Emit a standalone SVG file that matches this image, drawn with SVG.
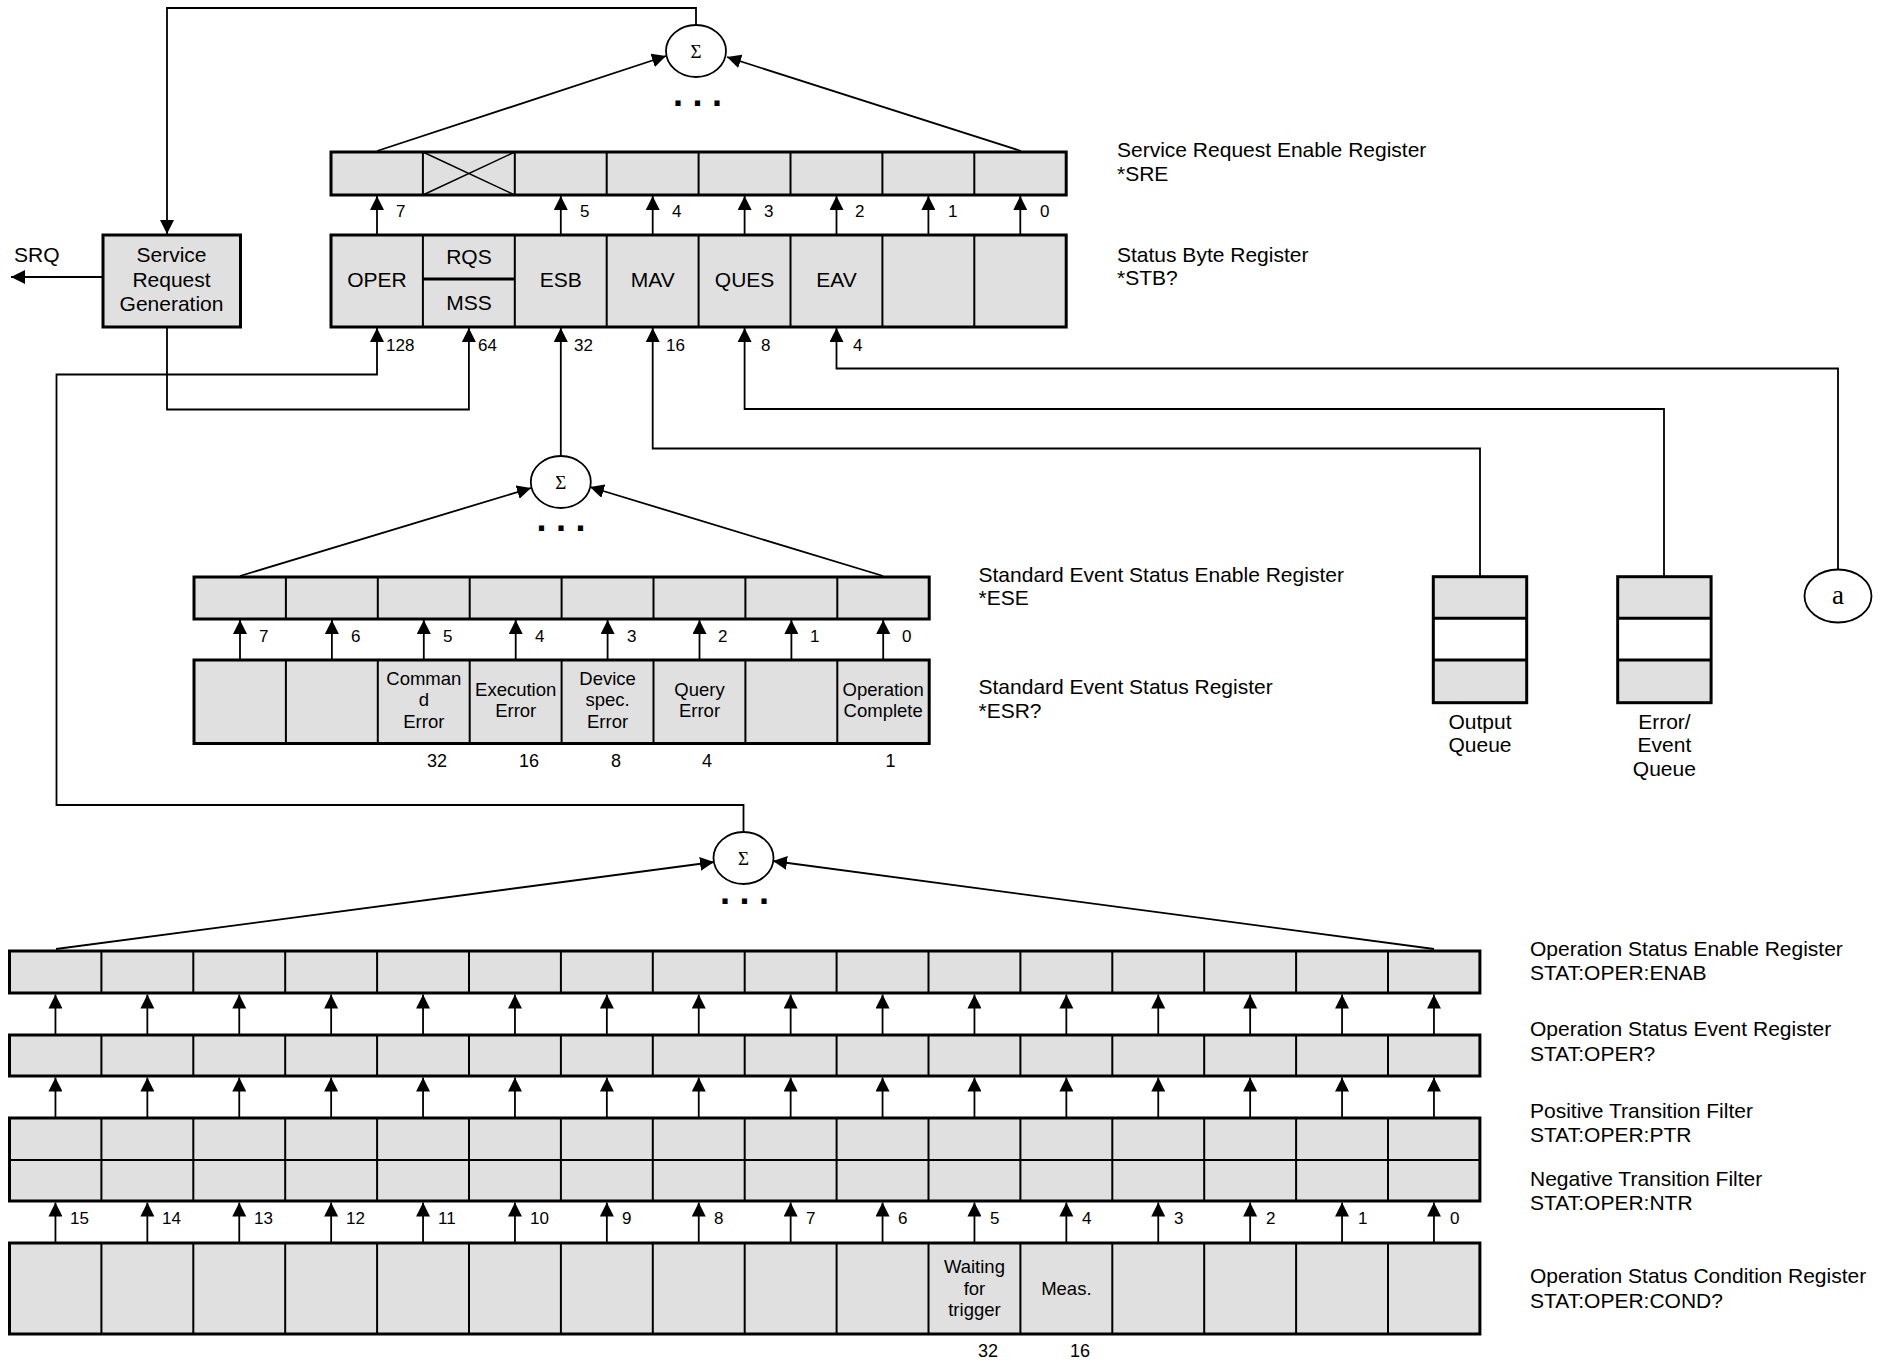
<svg xmlns="http://www.w3.org/2000/svg" width="1888" height="1362" viewBox="0 0 1888 1362">
<defs>
<marker id="ah" markerUnits="userSpaceOnUse" markerWidth="14" markerHeight="14" refX="14" refY="7" orient="auto"><path d="M0,0 L14,7 L0,14 z" fill="#000"/></marker>
<style>
.reg{fill:#e0e0e0;stroke:#000;stroke-width:3}
.wh{fill:#fff;stroke:none}
.dv{stroke:#000;stroke-width:2}
.ln{fill:none;stroke:#000;stroke-width:1.8}
.ar{fill:none;stroke:#000;stroke-width:1.8;marker-end:url(#ah)}
.sig{fill:#fff;stroke:#000;stroke-width:1.8}
text{font-family:"Liberation Sans",Arial,sans-serif;fill:#000}
.t21{font-size:21px}
.c21{font-size:21px;text-anchor:middle}
.c18{font-size:18.5px;text-anchor:middle}
.b17{font-size:17px}
.n18{font-size:18px;text-anchor:middle}
.srf{font-family:"Liberation Serif","Times New Roman",serif;text-anchor:middle}
.dots{font-size:36px;font-weight:bold;letter-spacing:9.5px}
</style>
</defs>
<rect width="1888" height="1362" fill="#fff"/>

<g id="connectors">
<polyline class="ar" points="696,25 696,8 167,8 167,234"/>
<line class="ar" x1="104" y1="277" x2="11" y2="277"/>
<line class="ar" x1="377" y1="151" x2="666" y2="56"/>
<line class="ar" x1="1021" y1="151" x2="727" y2="57"/>
<line class="ar" x1="377" y1="234" x2="377" y2="196"/>
<line class="ar" x1="560.8" y1="234" x2="560.8" y2="196"/>
<line class="ar" x1="652.7" y1="234" x2="652.7" y2="196"/>
<line class="ar" x1="744.6" y1="234" x2="744.6" y2="196"/>
<line class="ar" x1="836.5" y1="234" x2="836.5" y2="196"/>
<line class="ar" x1="928.4" y1="234" x2="928.4" y2="196"/>
<line class="ar" x1="1020.3" y1="234" x2="1020.3" y2="196"/>
<polyline class="ar" points="743.5,832 743.5,805 56.5,805 56.5,374.5 377,374.5 377,328"/>
<polyline class="ar" points="167,327 167,409.5 468.9,409.5 468.9,328"/>
<line class="ar" x1="560.8" y1="456" x2="560.8" y2="328"/>
<polyline class="ar" points="1480,576 1480,448.5 652.7,448.5 652.7,328"/>
<polyline class="ar" points="1664,576 1664,409 744.6,409 744.6,328"/>
<polyline class="ar" points="1838,569 1838,368.5 836.5,368.5 836.5,328"/>
<line class="ar" x1="240" y1="576" x2="531" y2="488"/>
<line class="ar" x1="883.2" y1="576" x2="590" y2="487"/>
<line class="ar" x1="240" y1="659" x2="240" y2="620"/>
<line class="ar" x1="331.9" y1="659" x2="331.9" y2="620"/>
<line class="ar" x1="423.8" y1="659" x2="423.8" y2="620"/>
<line class="ar" x1="515.7" y1="659" x2="515.7" y2="620"/>
<line class="ar" x1="607.6" y1="659" x2="607.6" y2="620"/>
<line class="ar" x1="699.5" y1="659" x2="699.5" y2="620"/>
<line class="ar" x1="791.4" y1="659" x2="791.4" y2="620"/>
<line class="ar" x1="883.2" y1="659" x2="883.2" y2="620"/>
<line class="ar" x1="56" y1="949" x2="714" y2="862"/>
<line class="ar" x1="1434" y1="949" x2="773" y2="861"/>
<g id="rowA">
<line class="ar" x1="55.45" y1="1034" x2="55.45" y2="994.5"/>
<line class="ar" x1="147.35" y1="1034" x2="147.35" y2="994.5"/>
<line class="ar" x1="239.25" y1="1034" x2="239.25" y2="994.5"/>
<line class="ar" x1="331.15" y1="1034" x2="331.15" y2="994.5"/>
<line class="ar" x1="423.05" y1="1034" x2="423.05" y2="994.5"/>
<line class="ar" x1="514.95" y1="1034" x2="514.95" y2="994.5"/>
<line class="ar" x1="606.85" y1="1034" x2="606.85" y2="994.5"/>
<line class="ar" x1="698.75" y1="1034" x2="698.75" y2="994.5"/>
<line class="ar" x1="790.65" y1="1034" x2="790.65" y2="994.5"/>
<line class="ar" x1="882.55" y1="1034" x2="882.55" y2="994.5"/>
<line class="ar" x1="974.45" y1="1034" x2="974.45" y2="994.5"/>
<line class="ar" x1="1066.35" y1="1034" x2="1066.35" y2="994.5"/>
<line class="ar" x1="1158.25" y1="1034" x2="1158.25" y2="994.5"/>
<line class="ar" x1="1250.15" y1="1034" x2="1250.15" y2="994.5"/>
<line class="ar" x1="1342.05" y1="1034" x2="1342.05" y2="994.5"/>
<line class="ar" x1="1433.95" y1="1034" x2="1433.95" y2="994.5"/>
</g>
<g id="rowB">
<line class="ar" x1="55.45" y1="1117" x2="55.45" y2="1077.5"/>
<line class="ar" x1="147.35" y1="1117" x2="147.35" y2="1077.5"/>
<line class="ar" x1="239.25" y1="1117" x2="239.25" y2="1077.5"/>
<line class="ar" x1="331.15" y1="1117" x2="331.15" y2="1077.5"/>
<line class="ar" x1="423.05" y1="1117" x2="423.05" y2="1077.5"/>
<line class="ar" x1="514.95" y1="1117" x2="514.95" y2="1077.5"/>
<line class="ar" x1="606.85" y1="1117" x2="606.85" y2="1077.5"/>
<line class="ar" x1="698.75" y1="1117" x2="698.75" y2="1077.5"/>
<line class="ar" x1="790.65" y1="1117" x2="790.65" y2="1077.5"/>
<line class="ar" x1="882.55" y1="1117" x2="882.55" y2="1077.5"/>
<line class="ar" x1="974.45" y1="1117" x2="974.45" y2="1077.5"/>
<line class="ar" x1="1066.35" y1="1117" x2="1066.35" y2="1077.5"/>
<line class="ar" x1="1158.25" y1="1117" x2="1158.25" y2="1077.5"/>
<line class="ar" x1="1250.15" y1="1117" x2="1250.15" y2="1077.5"/>
<line class="ar" x1="1342.05" y1="1117" x2="1342.05" y2="1077.5"/>
<line class="ar" x1="1433.95" y1="1117" x2="1433.95" y2="1077.5"/>
</g>
<g id="rowC">
<line class="ar" x1="55.45" y1="1242" x2="55.45" y2="1202.5"/>
<line class="ar" x1="147.35" y1="1242" x2="147.35" y2="1202.5"/>
<line class="ar" x1="239.25" y1="1242" x2="239.25" y2="1202.5"/>
<line class="ar" x1="331.15" y1="1242" x2="331.15" y2="1202.5"/>
<line class="ar" x1="423.05" y1="1242" x2="423.05" y2="1202.5"/>
<line class="ar" x1="514.95" y1="1242" x2="514.95" y2="1202.5"/>
<line class="ar" x1="606.85" y1="1242" x2="606.85" y2="1202.5"/>
<line class="ar" x1="698.75" y1="1242" x2="698.75" y2="1202.5"/>
<line class="ar" x1="790.65" y1="1242" x2="790.65" y2="1202.5"/>
<line class="ar" x1="882.55" y1="1242" x2="882.55" y2="1202.5"/>
<line class="ar" x1="974.45" y1="1242" x2="974.45" y2="1202.5"/>
<line class="ar" x1="1066.35" y1="1242" x2="1066.35" y2="1202.5"/>
<line class="ar" x1="1158.25" y1="1242" x2="1158.25" y2="1202.5"/>
<line class="ar" x1="1250.15" y1="1242" x2="1250.15" y2="1202.5"/>
<line class="ar" x1="1342.05" y1="1242" x2="1342.05" y2="1202.5"/>
<line class="ar" x1="1433.95" y1="1242" x2="1433.95" y2="1202.5"/>
</g>
</g>

<g id="sigma1">
<ellipse class="sig" cx="696" cy="51" rx="30" ry="26"/>
<text class="srf" x="696" y="57.5" font-size="19">Σ</text>
<text class="dots" x="673" y="106">...</text>
</g>

<g id="sre">
<rect class="reg" x="331" y="152" width="735.2" height="43"/>
<path class="dv" d="M422.9,152V195M514.8,152V195M606.7,152V195M698.6,152V195M790.5,152V195M882.4,152V195M974.3,152V195"/>
<path d="M422.9,152L514.8,195M514.8,152L422.9,195" stroke="#000" stroke-width="1.5"/>
<g class="b17">
<text x="396" y="217">7</text>
<text x="580" y="217">5</text>
<text x="672" y="217">4</text>
<text x="764" y="217">3</text>
<text x="855" y="217">2</text>
<text x="948" y="217">1</text>
<text x="1040" y="217">0</text>
</g>
</g>
<g id="sre-label"><text class="t21" x="1117" y="157.3">Service Request Enable Register</text><text class="t21" x="1117" y="181">*SRE</text></g>

<g id="srg">
<rect class="reg" x="103" y="235" width="137.5" height="92"/>
<text class="c21" x="171.5" y="262">Service</text>
<text class="c21" x="171.5" y="286.5">Request</text>
<text class="c21" x="171.5" y="311">Generation</text>
</g>
<text id="srq" class="t21" x="14" y="262">SRQ</text>

<g id="stb">
<rect class="reg" x="331" y="235" width="735.2" height="92"/>
<path class="dv" d="M422.9,235V327M514.8,235V327M606.7,235V327M698.6,235V327M790.5,235V327M882.4,235V327M974.3,235V327"/>
<line x1="422.9" y1="279" x2="514.8" y2="279" stroke="#000" stroke-width="3"/>
<text class="c21" x="377" y="287">OPER</text>
<text class="c21" x="468.9" y="264">RQS</text>
<text class="c21" x="468.9" y="309.5">MSS</text>
<text class="c21" x="560.8" y="287">ESB</text>
<text class="c21" x="652.7" y="287">MAV</text>
<text class="c21" x="744.6" y="287">QUES</text>
<text class="c21" x="836.5" y="287">EAV</text>
<g class="b17">
<text x="386" y="351">128</text>
<text x="478" y="351">64</text>
<text x="574" y="351">32</text>
<text x="666" y="351">16</text>
<text x="761" y="351">8</text>
<text x="853" y="351">4</text>
</g>
</g>
<g id="stb-label"><text class="t21" x="1117" y="261.7">Status Byte Register</text><text class="t21" x="1117" y="285">*STB?</text></g>

<g id="sigma2">
<ellipse class="sig" cx="560.8" cy="482" rx="30" ry="26"/>
<text class="srf" x="560.8" y="488.5" font-size="19">Σ</text>
<text class="dots" x="536.5" y="531">...</text>
</g>

<g id="ese">
<rect class="reg" x="194" y="577" width="735.2" height="42"/>
<path class="dv" d="M285.9,577V619M377.8,577V619M469.7,577V619M561.6,577V619M653.5,577V619M745.4,577V619M837.3,577V619"/>
<g class="b17">
<text x="259" y="642">7</text>
<text x="351" y="642">6</text>
<text x="443" y="642">5</text>
<text x="535" y="642">4</text>
<text x="627" y="642">3</text>
<text x="718" y="642">2</text>
<text x="810" y="642">1</text>
<text x="902" y="642">0</text>
</g>
</g>
<g id="ese-label"><text class="t21" x="978.5" y="581.7">Standard Event Status Enable Register</text><text class="t21" x="978.5" y="605">*ESE</text></g>

<g id="esr">
<rect class="reg" x="194" y="660" width="735.2" height="83.5"/>
<path class="dv" d="M285.9,660V743.5M377.8,660V743.5M469.7,660V743.5M561.6,660V743.5M653.5,660V743.5M745.4,660V743.5M837.3,660V743.5"/>
<text class="c18" x="423.8" y="684.5">Comman</text>
<text class="c18" x="423.8" y="706">d</text>
<text class="c18" x="423.8" y="727.5">Error</text>
<text class="c18" x="515.7" y="695.5">Execution</text>
<text class="c18" x="515.7" y="717">Error</text>
<text class="c18" x="607.6" y="684.5">Device</text>
<text class="c18" x="607.6" y="706">spec.</text>
<text class="c18" x="607.6" y="727.5">Error</text>
<text class="c18" x="699.5" y="695.5">Query</text>
<text class="c18" x="699.5" y="717">Error</text>
<text class="c18" x="883.2" y="695.5">Operation</text>
<text class="c18" x="883.2" y="717">Complete</text>
<text class="n18" x="437" y="767">32</text>
<text class="n18" x="529" y="767">16</text>
<text class="n18" x="616" y="767">8</text>
<text class="n18" x="707" y="767">4</text>
<text class="n18" x="890.5" y="767">1</text>
</g>
<g id="esr-label"><text class="t21" x="978.5" y="694.3">Standard Event Status Register</text><text class="t21" x="978.5" y="717.7">*ESR?</text></g>

<g id="output-queue">
<rect class="reg" x="1433.3" y="576.7" width="93.4" height="126"/>
<rect class="wh" x="1435" y="618.3" width="90" height="41.7"/>
<path d="M1433.3,618.3H1526.7M1433.3,660H1526.7" stroke="#000" stroke-width="3"/>
<text class="c21" x="1480" y="728.5">Output</text>
<text class="c21" x="1480" y="752">Queue</text>
</g>
<g id="error-queue">
<rect class="reg" x="1617.7" y="576.7" width="93.4" height="126"/>
<rect class="wh" x="1619.4" y="618.3" width="90" height="41.7"/>
<path d="M1617.7,618.3H1711.1M1617.7,660H1711.1" stroke="#000" stroke-width="3"/>
<text class="c21" x="1664.4" y="728.5">Error/</text>
<text class="c21" x="1664.4" y="752">Event</text>
<text class="c21" x="1664.4" y="775.5">Queue</text>
</g>
<g id="node-a">
<ellipse class="sig" cx="1838" cy="596" rx="33.5" ry="26.5"/>
<text class="srf" x="1838" y="604" font-size="27">a</text>
</g>

<g id="sigma3">
<ellipse class="sig" cx="743.5" cy="858" rx="30" ry="26"/>
<text class="srf" x="743.5" y="864.5" font-size="19">Σ</text>
<text class="dots" x="720" y="904">...</text>
</g>

<g id="oper-enab">
<rect class="reg" x="9.5" y="951" width="1470.4" height="42"/>
<path class="dv" d="M101.4,951V993M193.3,951V993M285.2,951V993M377.1,951V993M469,951V993M560.9,951V993M652.8,951V993M744.7,951V993M836.6,951V993M928.5,951V993M1020.4,951V993M1112.3,951V993M1204.2,951V993M1296.1,951V993M1388,951V993"/>
</g>
<g id="oper-event">
<rect class="reg" x="9.5" y="1035" width="1470.4" height="41"/>
<path class="dv" d="M101.4,1035V1076M193.3,1035V1076M285.2,1035V1076M377.1,1035V1076M469,1035V1076M560.9,1035V1076M652.8,1035V1076M744.7,1035V1076M836.6,1035V1076M928.5,1035V1076M1020.4,1035V1076M1112.3,1035V1076M1204.2,1035V1076M1296.1,1035V1076M1388,1035V1076"/>
</g>
<g id="oper-ptr-ntr">
<rect class="reg" x="9.5" y="1118" width="1470.4" height="83"/>
<path class="dv" d="M101.4,1118V1201M193.3,1118V1201M285.2,1118V1201M377.1,1118V1201M469,1118V1201M560.9,1118V1201M652.8,1118V1201M744.7,1118V1201M836.6,1118V1201M928.5,1118V1201M1020.4,1118V1201M1112.3,1118V1201M1204.2,1118V1201M1296.1,1118V1201M1388,1118V1201M9.5,1160H1479.9"/>
</g>
<g id="oper-bits" class="b17">
<text x="70" y="1224">15</text>
<text x="162" y="1224">14</text>
<text x="254" y="1224">13</text>
<text x="346" y="1224">12</text>
<text x="438" y="1224">11</text>
<text x="530" y="1224">10</text>
<text x="622" y="1224">9</text>
<text x="714" y="1224">8</text>
<text x="806" y="1224">7</text>
<text x="898" y="1224">6</text>
<text x="990" y="1224">5</text>
<text x="1082" y="1224">4</text>
<text x="1174" y="1224">3</text>
<text x="1266" y="1224">2</text>
<text x="1358" y="1224">1</text>
<text x="1450" y="1224">0</text>
</g>
<g id="oper-cond">
<rect class="reg" x="9.5" y="1243" width="1470.4" height="91"/>
<path class="dv" d="M101.4,1243V1334M193.3,1243V1334M285.2,1243V1334M377.1,1243V1334M469,1243V1334M560.9,1243V1334M652.8,1243V1334M744.7,1243V1334M836.6,1243V1334M928.5,1243V1334M1020.4,1243V1334M1112.3,1243V1334M1204.2,1243V1334M1296.1,1243V1334M1388,1243V1334"/>
<text class="c18" x="974.45" y="1273">Waiting</text>
<text class="c18" x="974.45" y="1294.5">for</text>
<text class="c18" x="974.45" y="1316">trigger</text>
<text class="c18" x="1066.35" y="1294.5">Meas.</text>
<text class="n18" x="988" y="1357">32</text>
<text class="n18" x="1080" y="1357">16</text>
</g>
<g id="oper-labels">
<text class="t21" x="1530" y="956">Operation Status Enable Register</text>
<text class="t21" x="1530" y="980">STAT:OPER:ENAB</text>
<text class="t21" x="1530" y="1036">Operation Status Event Register</text>
<text class="t21" x="1530" y="1060.5">STAT:OPER?</text>
<text class="t21" x="1530" y="1118.3">Positive Transition Filter</text>
<text class="t21" x="1530" y="1142.3">STAT:OPER:PTR</text>
<text class="t21" x="1530" y="1185.7">Negative Transition Filter</text>
<text class="t21" x="1530" y="1210">STAT:OPER:NTR</text>
<text class="t21" x="1530" y="1283.3">Operation Status Condition Register</text>
<text class="t21" x="1530" y="1307.7">STAT:OPER:COND?</text>
</g>
</svg>
